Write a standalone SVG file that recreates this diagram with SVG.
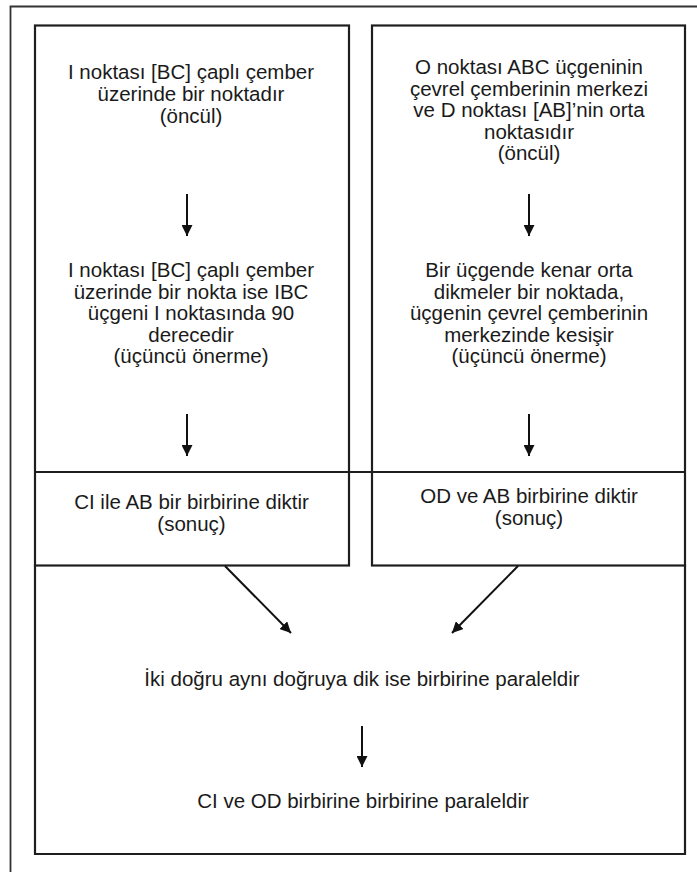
<svg xmlns="http://www.w3.org/2000/svg" width="697" height="872" viewBox="0 0 697 872">
  <style>
    .frame { fill: none; stroke: #1e1e1e; stroke-width: 2.2; }
    .outer { fill: none; stroke: #333; stroke-width: 1.8; }
    .conn { fill: none; stroke: #111; stroke-width: 2; }
    text { font-family: "Liberation Sans", Arial, sans-serif; font-size: 20.5px; fill: #1a1a1a; text-anchor: middle; }
  </style>
  <defs>
    <marker id="arrow" viewBox="0 0 10 10" refX="10" refY="5" markerWidth="5.5" markerHeight="5.5" markerUnits="strokeWidth" orient="auto">
      <path d="M0,0 L10,5 L0,10 Z" fill="#111"/>
    </marker>
  </defs>

  <rect width="697" height="872" fill="#ffffff"/>

  <!-- page border (top and left edges) -->
  <path class="outer" d="M10.5,872 V6.5 H697"/>

  <!-- left column -->
  <g id="left-column">
    <rect class="frame" x="35" y="25.5" width="314" height="540"/>
    <g id="premise-left">
      <text x="191" y="79">I noktası [BC] çaplı çember</text>
      <text x="191" y="101">üzerinde bir noktadır</text>
      <text x="191" y="123">(öncül)</text>
    </g>
    <g id="third-left">
      <text x="191" y="277">I noktası [BC] çaplı çember</text>
      <text x="191" y="298.5">üzerinde bir nokta ise IBC</text>
      <text x="191" y="320">üçgeni I noktasında 90</text>
      <text x="191" y="341.5">derecedir</text>
      <text x="191" y="363">(üçüncü önerme)</text>
    </g>
    <g id="result-left">
      <text x="191.5" y="509">CI ile AB bir birbirine diktir</text>
      <text x="191.5" y="531">(sonuç)</text>
    </g>
  </g>

  <!-- right column -->
  <g id="right-column">
    <rect class="frame" x="372" y="25.5" width="313" height="540"/>
    <g id="premise-right">
      <text x="529" y="74">O noktası ABC üçgeninin</text>
      <text x="529" y="95.5">çevrel çemberinin merkezi</text>
      <text x="529" y="117">ve D noktası [AB]’nin orta</text>
      <text x="529" y="138.5">noktasıdır</text>
      <text x="529" y="160">(öncül)</text>
    </g>
    <g id="third-right">
      <text x="529" y="277">Bir üçgende kenar orta</text>
      <text x="529" y="298.5">dikmeler bir noktada,</text>
      <text x="529" y="320">üçgenin çevrel çemberinin</text>
      <text x="529" y="341.5">merkezinde kesişir</text>
      <text x="529" y="363">(üçüncü önerme)</text>
    </g>
    <g id="result-right">
      <text x="529" y="503">OD ve AB birbirine diktir</text>
      <text x="529" y="525">(sonuç)</text>
    </g>
  </g>

  <!-- divider running across both columns -->
  <path class="frame" d="M35,472 H685"/>

  <!-- bottom panel -->
  <g id="bottom-panel">
    <path class="frame" d="M35,565 V854 H685 V565"/>
    <g id="rule">
      <text x="362" y="686">İki doğru aynı doğruya dik ise birbirine paraleldir</text>
    </g>
    <g id="conclusion">
      <text x="363" y="808">CI ve OD birbirine birbirine paraleldir</text>
    </g>
  </g>

  <!-- connectors -->
  <g id="connectors">
    <line class="conn" x1="187" y1="194" x2="187" y2="236" marker-end="url(#arrow)"/>
    <line class="conn" x1="187" y1="414" x2="187" y2="456" marker-end="url(#arrow)"/>
    <line class="conn" x1="529" y1="194" x2="529" y2="236" marker-end="url(#arrow)"/>
    <line class="conn" x1="529" y1="414" x2="529" y2="456" marker-end="url(#arrow)"/>
    <line class="conn" x1="225" y1="566" x2="291" y2="633" marker-end="url(#arrow)"/>
    <line class="conn" x1="518" y1="566" x2="452" y2="633" marker-end="url(#arrow)"/>
    <line class="conn" x1="362" y1="726" x2="362" y2="767" marker-end="url(#arrow)"/>
  </g>
</svg>
